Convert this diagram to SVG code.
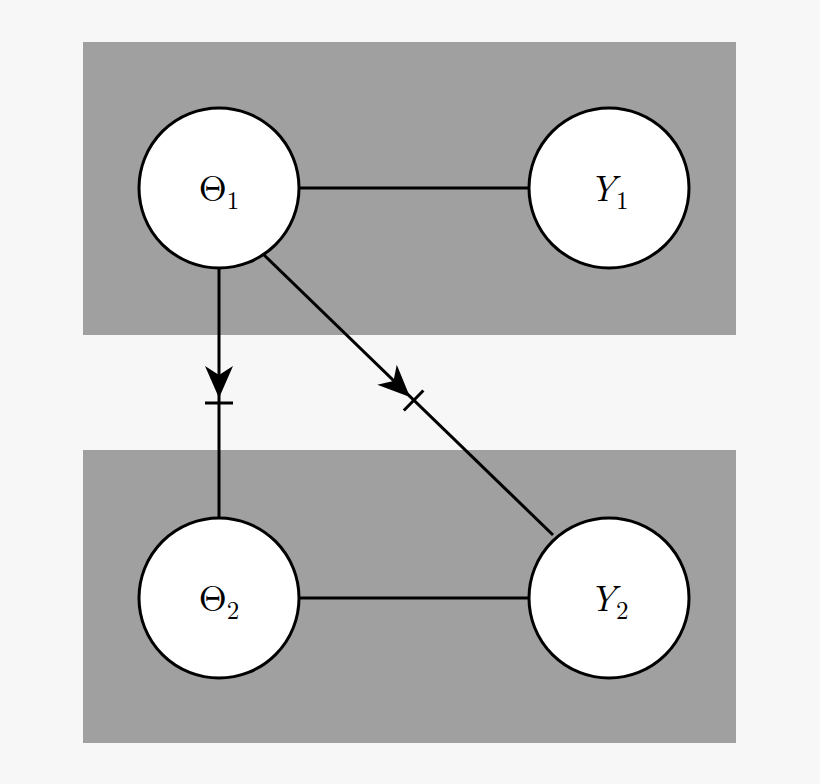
<svg xmlns="http://www.w3.org/2000/svg" xmlns:xlink="http://www.w3.org/1999/xlink" width="820" height="784" viewBox="0 0 820 784">
<style>
.box{fill:#a0a0a0}
.n{fill:#fff;stroke:#000;stroke-width:3}
.e{stroke:#000;stroke-width:3;fill:none}
.t{font-family:"Latin Modern Roman","Liberation Serif",serif;font-size:36px;text-anchor:middle}
.s{font-size:25px;font-style:normal}
</style>
<defs>
<g id="ah"><path d="M0,0 L-32,-14 L-23,0 L-32,14 Z" fill="#000"/><line x1="5" y1="-14" x2="5" y2="14" stroke="#000" stroke-width="3"/></g>
</defs>
<rect width="820" height="784" fill="#f7f7f7"/>
<rect class="box" x="83" y="42" width="653" height="293"/>
<rect class="box" x="83" y="450" width="653" height="293"/>
<g id="connectors">
<line class="e" x1="299" y1="188" x2="529" y2="188"/>
<line class="e" x1="299" y1="598" x2="529" y2="598"/>
<line class="e" x1="219" y1="268" x2="219" y2="518"/>
<line class="e" x1="264" y1="255" x2="553" y2="535"/>
<use xlink:href="#ah" transform="translate(219,398) rotate(90)"/>
<use xlink:href="#ah" transform="translate(410,397) rotate(44.1)"/>
</g>
<g id="theta1"><circle class="n" cx="219" cy="188" r="80"/><text class="t" x="219" y="201">Θ<tspan class="s" dy="8">1</tspan></text></g>
<g id="y1"><circle class="n" cx="609" cy="188" r="80"/><text class="t" x="609" y="201"><tspan font-style="italic">Y</tspan><tspan class="s" dy="8">1</tspan></text></g>
<g id="theta2"><circle class="n" cx="219" cy="598" r="80"/><text class="t" x="219" y="611">Θ<tspan class="s" dy="8">2</tspan></text></g>
<g id="y2"><circle class="n" cx="609" cy="598" r="80"/><text class="t" x="609" y="611"><tspan font-style="italic">Y</tspan><tspan class="s" dy="8">2</tspan></text></g>
</svg>
